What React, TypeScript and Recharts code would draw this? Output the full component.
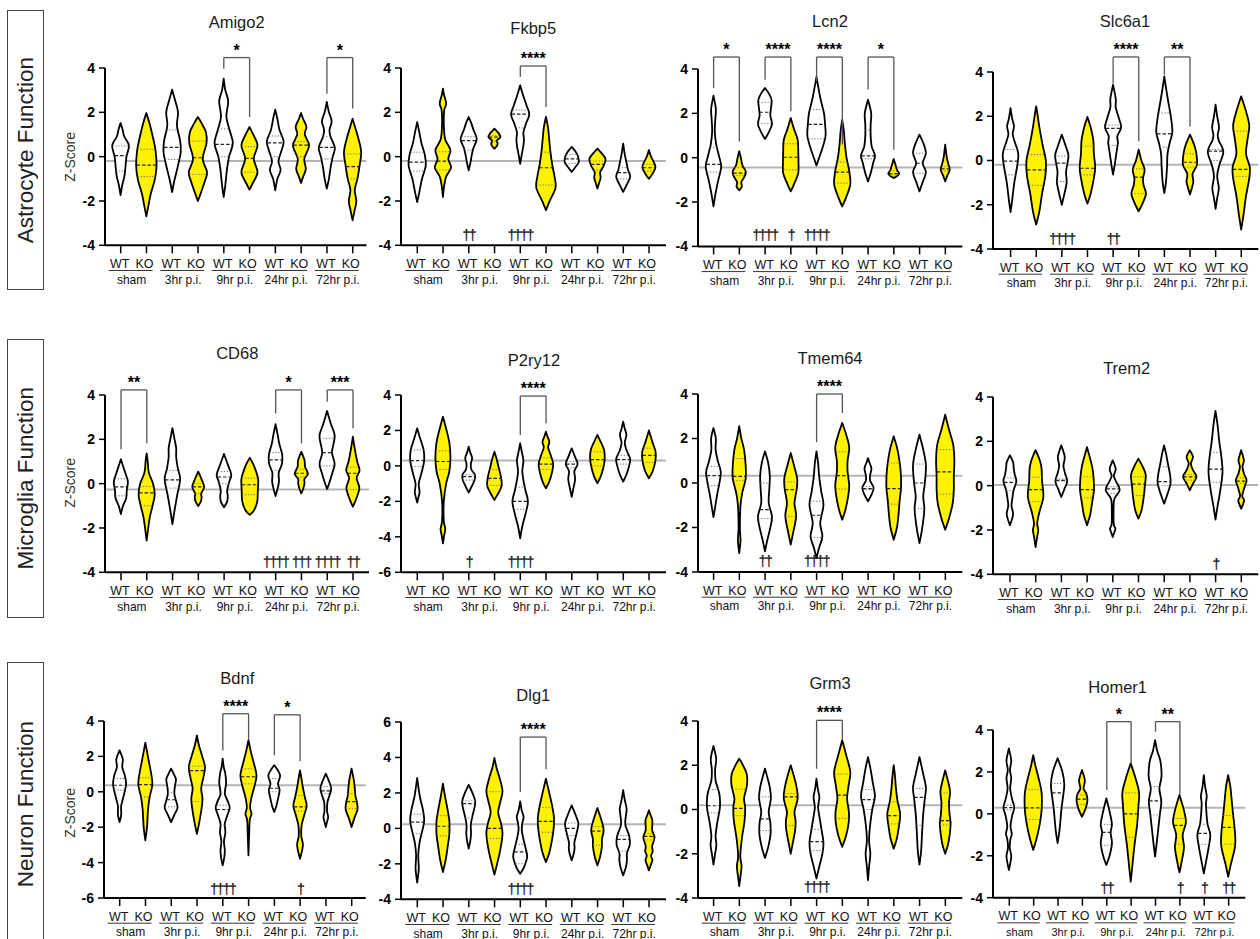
import React from 'react';
import { ComposedChart, Bar, XAxis, YAxis, ReferenceLine, ReferenceDot } from 'recharts';

const FONT = '"Liberation Sans", Arial, Helvetica, sans-serif';

// ---------- categories ----------
const genotypes = ['WT', 'KO'];
const timepoints = ['sham', '3hr p.i.', '9hr p.i.', '24hr p.i.', '72hr p.i.'];
const categories = timepoints.flatMap((t) => genotypes.map((g) => `${g}|${t}`));
const rowLabels = ['Astrocyte Function', 'Microglia Function', 'Neuron Function'];

const ticks44 = [-4, -2, 0, 2, 4];
const ticks64 = [-6, -4, -2, 0, 2, 4];
const ticks46 = [-4, -2, 0, 2, 4, 6];

// ---------- violins: k = [value, relative half width] knots (min..max), q = [Q1, median, Q3] ----------
const amigo2Violins = [
  { k: [[-1.74, 0], [-1.3, 0.15], [-0.9, 0.35], [-0.5, 0.45], [0, 0.55], [0.5, 0.78], [0.9, 0.35], [1.2, 0.2], [1.52, 0]], q: [-0.65, 0.05, 0.48] },
  { k: [[-2.69, 0], [-2.2, 0.2], [-1.7, 0.4], [-1.0, 0.8], [-0.4, 0.95], [0.3, 0.85], [0.9, 0.6], [1.5, 0.3], [1.97, 0]], q: [-0.9, -0.38, 0.33] },
  { k: [[-1.6, 0], [-1.1, 0.2], [-0.5, 0.5], [0.2, 0.8], [0.7, 0.75], [1.4, 0.45], [2.0, 0.55], [2.5, 0.3], [3.02, 0]], q: [-0.13, 0.42, 1.2] },
  { k: [[-2.0, 0], [-1.6, 0.3], [-1.1, 0.65], [-0.7, 0.85], [-0.1, 0.45], [0.6, 0.8], [1.1, 0.75], [1.5, 0.35], [1.79, 0]], q: [-0.8, -0.05, 0.7] },
  { k: [[-1.82, 0], [-1.3, 0.15], [-0.6, 0.3], [0, 0.5], [0.6, 0.85], [1.2, 0.55], [1.8, 0.25], [2.5, 0.42], [3.0, 0.15], [3.52, 0]], q: [0.0, 0.55, 1.25] },
  { k: [[-1.49, 0], [-1.2, 0.3], [-0.7, 0.75], [-0.1, 0.4], [0.5, 0.75], [0.9, 0.45], [1.34, 0]], q: [-0.7, -0.08, 0.45] },
  { k: [[-1.52, 0], [-1.0, 0.2], [-0.6, 0.5], [-0.2, 0.3], [0.3, 0.6], [0.7, 0.78], [1.2, 0.4], [1.7, 0.2], [2.12, 0]], q: [0.0, 0.62, 0.93] },
  { k: [[-1.19, 0], [-0.9, 0.2], [-0.55, 0.45], [-0.1, 0.3], [0.5, 0.75], [1.0, 0.35], [1.35, 0.5], [1.7, 0.2], [1.97, 0]], q: [0.0, 0.52, 0.68] },
  { k: [[-1.44, 0], [-1.0, 0.2], [-0.5, 0.35], [0, 0.55], [0.4, 0.75], [0.9, 0.35], [1.2, 0.25], [1.6, 0.45], [2.0, 0.2], [2.47, 0]], q: [-0.1, 0.42, 0.9] },
  { k: [[-2.87, 0], [-2.4, 0.2], [-2.0, 0.35], [-1.5, 0.2], [-1.0, 0.45], [-0.4, 0.65], [0.2, 0.8], [0.8, 0.55], [1.3, 0.25], [1.71, 0]], q: [-1.0, -0.45, 0.12] },
];
const fkbp5Violins = [
  { k: [[-2.05, 0], [-1.6, 0.2], [-1.0, 0.45], [-0.4, 0.8], [0.1, 0.7], [0.6, 0.4], [1.1, 0.2], [1.56, 0]], q: [-0.65, -0.25, 0.2] },
  { k: [[-1.82, 0], [-1.3, 0.12], [-0.9, 0.3], [-0.5, 0.75], [-0.1, 0.5], [0.3, 0.7], [0.8, 0.2], [1.5, 0.08], [2.1, 0.12], [2.4, 0.3], [2.8, 0.1], [3.07, 0]], q: [-0.6, -0.2, 0.22] },
  { k: [[-0.62, 0], [-0.3, 0.15], [0.1, 0.3], [0.4, 0.45], [0.8, 0.75], [1.2, 0.45], [1.5, 0.25], [1.79, 0]], q: [0.3, 0.72, 0.9] },
  { k: [[0.36, 0], [0.5, 0.25], [0.62, 0.3], [0.72, 0.2], [0.88, 0.55], [1.05, 0.4], [1.26, 0]], q: [0.7, 0.88, 0.95] },
  { k: [[-0.32, 0], [0.1, 0.15], [0.5, 0.3], [0.8, 0.35], [1.1, 0.3], [1.5, 0.55], [1.9, 0.85], [2.3, 0.6], [2.8, 0.25], [3.22, 0]], q: [1.3, 1.92, 2.1] },
  { k: [[-2.42, 0], [-2.0, 0.35], [-1.4, 0.9], [-0.9, 0.8], [-0.4, 0.6], [0.2, 0.42], [0.8, 0.3], [1.3, 0.2], [1.79, 0]], q: [-1.28, -0.5, 0.2] },
  { k: [[-0.69, 0], [-0.5, 0.3], [-0.25, 0.65], [0, 0.6], [0.2, 0.4], [0.44, 0]], q: [-0.3, -0.1, 0.1] },
  { k: [[-1.44, 0], [-1.2, 0.15], [-0.95, 0.3], [-0.7, 0.25], [-0.4, 0.6], [-0.1, 0.75], [0.15, 0.4], [0.36, 0]], q: [-0.6, -0.35, -0.2] },
  { k: [[-1.59, 0], [-1.3, 0.3], [-0.9, 0.65], [-0.6, 0.45], [-0.3, 0.32], [0.1, 0.15], [0.59, 0]], q: [-1.0, -0.72, -0.5] },
  { k: [[-1.0, 0], [-0.8, 0.3], [-0.5, 0.6], [-0.3, 0.5], [0, 0.2], [0.3, 0]], q: [-0.65, -0.5, -0.35] },
];
const lcn2Violins = [
  { k: [[-2.2, 0], [-1.6, 0.2], [-1.0, 0.45], [-0.4, 0.72], [0.1, 0.5], [0.6, 0.25], [1.2, 0.12], [1.8, 0.18], [2.2, 0.22], [2.8, 0]], q: [-0.65, -0.3, 0.45] },
  { k: [[-1.47, 0], [-1.3, 0.25], [-1.1, 0.2], [-0.8, 0.55], [-0.6, 0.6], [-0.35, 0.3], [0, 0.15], [0.29, 0]], q: [-0.8, -0.7, -0.45] },
  { k: [[0.84, 0], [1.1, 0.3], [1.5, 0.65], [1.9, 0.5], [2.2, 0.55], [2.6, 0.62], [2.9, 0.35], [3.14, 0]], q: [1.55, 2.05, 2.5] },
  { k: [[-1.52, 0], [-1.2, 0.3], [-0.7, 0.7], [-0.2, 0.72], [0.3, 0.7], [0.8, 0.65], [1.3, 0.3], [1.79, 0]], q: [-0.55, 0.02, 0.63] },
  { k: [[-0.35, 0], [0, 0.25], [0.5, 0.6], [1.0, 0.85], [1.5, 0.8], [2.0, 0.7], [2.6, 0.4], [3.1, 0.2], [3.64, 0]], q: [0.85, 1.5, 2.17] },
  { k: [[-2.2, 0], [-1.8, 0.35], [-1.2, 0.75], [-0.6, 0.65], [0, 0.4], [0.6, 0.25], [1.2, 0.15], [1.71, 0]], q: [-1.15, -0.65, -0.2] },
  { k: [[-1.07, 0], [-0.7, 0.25], [-0.2, 0.5], [0.1, 0.65], [0.5, 0.35], [1.0, 0.25], [1.5, 0.25], [2.0, 0.3], [2.62, 0]], q: [-0.05, 0.08, 1.25] },
  { k: [[-0.92, 0], [-0.8, 0.4], [-0.7, 0.5], [-0.55, 0.3], [-0.3, 0.15], [-0.06, 0]], q: [-0.78, -0.72, -0.6] },
  { k: [[-1.52, 0], [-1.1, 0.3], [-0.65, 0.6], [-0.25, 0.3], [0.2, 0.6], [0.6, 0.4], [1.04, 0]], q: [-0.7, -0.25, 0.2] },
  { k: [[-1.07, 0], [-0.8, 0.2], [-0.55, 0.42], [-0.3, 0.3], [0, 0.15], [0.59, 0]], q: [-0.6, -0.5, -0.4] },
];
const slc6a1Violins = [
  { k: [[-2.33, 0], [-1.8, 0.15], [-1.0, 0.35], [-0.3, 0.6], [0.3, 0.72], [0.9, 0.35], [1.2, 0.2], [1.55, 0.32], [1.9, 0.15], [2.37, 0]], q: [-0.65, -0.03, 0.5] },
  { k: [[-2.9, 0], [-2.3, 0.3], [-1.5, 0.55], [-0.7, 0.85], [0, 0.9], [0.7, 0.6], [1.5, 0.3], [2.0, 0.15], [2.45, 0]], q: [-1.12, -0.42, 0.27] },
  { k: [[-2.0, 0], [-1.6, 0.2], [-1.0, 0.45], [-0.5, 0.4], [0.2, 0.62], [0.6, 0.4], [1.17, 0]], q: [-0.95, -0.12, 0.2] },
  { k: [[-1.95, 0], [-1.5, 0.3], [-0.8, 0.6], [-0.3, 0.72], [0.3, 0.6], [0.9, 0.55], [1.5, 0.3], [1.97, 0]], q: [-0.65, -0.35, 0.65] },
  { k: [[-0.64, 0], [-0.2, 0.15], [0.3, 0.3], [0.8, 0.45], [1.1, 0.4], [1.5, 0.75], [1.9, 0.55], [2.4, 0.25], [2.8, 0.25], [3.42, 0]], q: [0.68, 1.45, 1.6] },
  { k: [[-2.3, 0], [-1.9, 0.4], [-1.5, 0.68], [-1.1, 0.45], [-0.8, 0.4], [-0.4, 0.55], [0, 0.25], [0.49, 0]], q: [-1.5, -0.75, -0.38] },
  { k: [[-1.47, 0], [-1.0, 0.15], [-0.3, 0.25], [0.3, 0.3], [0.8, 0.5], [1.3, 0.75], [2.0, 0.6], [2.7, 0.35], [3.3, 0.15], [3.8, 0]], q: [0.6, 1.2, 2.15] },
  { k: [[-1.54, 0], [-1.2, 0.2], [-0.95, 0.32], [-0.6, 0.25], [-0.2, 0.65], [0.3, 0.6], [0.7, 0.4], [1.17, 0]], q: [-0.3, -0.08, 0.3] },
  { k: [[-2.19, 0], [-1.7, 0.15], [-1.25, 0.3], [-0.7, 0.15], [-0.2, 0.35], [0.4, 0.72], [0.9, 0.3], [1.15, 0.2], [1.5, 0.32], [2.0, 0.15], [2.52, 0]], q: [0.0, 0.42, 0.5] },
  { k: [[-3.12, 0], [-2.5, 0.2], [-1.6, 0.45], [-0.8, 0.75], [-0.3, 0.8], [0.3, 0.45], [1.0, 0.6], [1.6, 0.75], [2.3, 0.4], [2.9, 0]], q: [-0.72, -0.4, 1.33] },
];
const cd68Violins = [
  { k: [[-1.37, 0], [-1.0, 0.2], [-0.65, 0.5], [-0.3, 0.55], [0.1, 0.65], [0.5, 0.4], [0.8, 0.2], [1.1, 0]], q: [-0.55, -0.15, 0.22] },
  { k: [[-2.57, 0], [-2.0, 0.15], [-1.5, 0.3], [-1.0, 0.55], [-0.5, 0.75], [0, 0.6], [0.5, 0.2], [1.0, 0.1], [1.37, 0]], q: [-1.0, -0.42, -0.13] },
  { k: [[-1.83, 0], [-1.2, 0.2], [-0.5, 0.45], [0.2, 0.72], [0.7, 0.5], [1.2, 0.35], [1.6, 0.35], [2.0, 0.2], [2.5, 0]], q: [-0.2, 0.17, 0.6] },
  { k: [[-1.01, 0], [-0.8, 0.25], [-0.6, 0.32], [-0.45, 0.28], [-0.15, 0.55], [0.15, 0.35], [0.54, 0]], q: [-0.44, -0.15, 0.0] },
  { k: [[-1.07, 0], [-0.8, 0.3], [-0.55, 0.35], [-0.3, 0.3], [0.1, 0.5], [0.4, 0.68], [0.8, 0.4], [1.34, 0]], q: [0.0, 0.3, 0.55] },
  { k: [[-1.41, 0], [-1.2, 0.4], [-0.8, 0.7], [-0.3, 0.75], [0.2, 0.78], [0.6, 0.55], [0.9, 0.3], [1.17, 0]], q: [-0.5, -0.05, 0.25] },
  { k: [[-0.56, 0], [-0.2, 0.2], [0.1, 0.32], [0.5, 0.3], [0.9, 0.6], [1.3, 0.62], [1.8, 0.35], [2.2, 0.2], [2.68, 0]], q: [0.6, 1.07, 1.4] },
  { k: [[-0.44, 0], [-0.2, 0.2], [0.05, 0.3], [0.2, 0.28], [0.45, 0.62], [0.75, 0.35], [1.05, 0.3], [1.44, 0]], q: [0.3, 0.47, 0.65] },
  { k: [[-0.24, 0], [0.1, 0.25], [0.5, 0.5], [0.9, 0.7], [1.4, 0.45], [1.8, 0.6], [2.2, 0.7], [2.7, 0.35], [3.28, 0]], q: [0.8, 1.4, 2.05] },
  { k: [[-1.04, 0], [-0.7, 0.3], [-0.2, 0.6], [0.25, 0.35], [0.6, 0.62], [1.0, 0.4], [1.5, 0.2], [2.12, 0]], q: [-0.26, 0.47, 0.75] },
];
const p2ry12Violins = [
  { k: [[-2.07, 0], [-1.7, 0.15], [-1.45, 0.22], [-1.0, 0.15], [-0.4, 0.4], [0.3, 0.65], [0.9, 0.6], [1.5, 0.3], [2.12, 0]], q: [-0.04, 0.3, 0.9] },
  { k: [[-4.37, 0], [-3.9, 0.12], [-3.55, 0.22], [-3.1, 0.08], [-2.0, 0.08], [-1.0, 0.3], [-0.3, 0.6], [0.5, 0.7], [1.3, 0.6], [2.1, 0.3], [2.77, 0]], q: [-0.2, 0.25, 0.85] },
  { k: [[-1.5, 0], [-1.2, 0.25], [-0.8, 0.55], [-0.5, 0.58], [-0.2, 0.25], [0.1, 0.2], [0.45, 0.32], [0.75, 0.15], [1.09, 0]], q: [-0.8, -0.6, -0.5] },
  { k: [[-1.92, 0], [-1.5, 0.4], [-1.1, 0.68], [-0.6, 0.6], [-0.1, 0.4], [0.4, 0.2], [0.8, 0]], q: [-1.1, -0.7, -0.2] },
  { k: [[-4.08, 0], [-3.4, 0.2], [-2.7, 0.5], [-2.0, 0.72], [-1.4, 0.5], [-0.8, 0.3], [-0.3, 0.2], [0.3, 0.3], [0.8, 0.15], [1.27, 0]], q: [-2.45, -2.0, -1.2] },
  { k: [[-1.26, 0], [-0.9, 0.3], [-0.4, 0.55], [0.1, 0.68], [0.6, 0.45], [1.05, 0.2], [1.35, 0.32], [1.65, 0.15], [1.93, 0]], q: [-0.2, 0.1, 0.45] },
  { k: [[-1.74, 0], [-1.3, 0.15], [-0.75, 0.32], [-0.3, 0.25], [0.1, 0.55], [0.45, 0.35], [0.99, 0]], q: [-0.1, 0.1, 0.25] },
  { k: [[-0.98, 0], [-0.6, 0.3], [-0.1, 0.55], [0.4, 0.68], [0.9, 0.62], [1.3, 0.35], [1.75, 0]], q: [0.0, 0.35, 0.8] },
  { k: [[-0.88, 0], [-0.5, 0.3], [0, 0.55], [0.4, 0.65], [0.9, 0.3], [1.3, 0.15], [1.75, 0.3], [2.1, 0.15], [2.5, 0]], q: [0.1, 0.35, 0.6] },
  { k: [[-0.7, 0], [-0.3, 0.35], [0.3, 0.6], [0.8, 0.62], [1.3, 0.35], [2.0, 0]], q: [0.2, 0.6, 1.0] },
];
const tmem64Violins = [
  { k: [[-1.53, 0], [-1.1, 0.15], [-0.5, 0.35], [0, 0.55], [0.5, 0.68], [1.0, 0.4], [1.5, 0.2], [2.0, 0.22], [2.47, 0]], q: [-0.12, 0.33, 0.75] },
  { k: [[-3.15, 0], [-2.6, 0.12], [-2.0, 0.06], [-1.0, 0.12], [-0.4, 0.3], [0.2, 0.6], [0.8, 0.6], [1.5, 0.45], [2.0, 0.2], [2.55, 0]], q: [0.1, 0.3, 1.1] },
  { k: [[-3.07, 0], [-2.6, 0.2], [-2.0, 0.5], [-1.5, 0.65], [-0.9, 0.35], [-0.3, 0.4], [0.3, 0.45], [0.9, 0.3], [1.42, 0]], q: [-1.6, -1.2, 0.0] },
  { k: [[-2.77, 0], [-2.3, 0.2], [-1.5, 0.5], [-0.9, 0.35], [-0.3, 0.55], [0.2, 0.6], [0.8, 0.3], [1.35, 0]], q: [-1.5, -0.3, 0.05] },
  { k: [[-3.37, 0], [-2.9, 0.25], [-2.4, 0.55], [-1.8, 0.35], [-1.0, 0.65], [-0.4, 0.45], [0.3, 0.25], [0.9, 0.15], [1.42, 0]], q: [-2.45, -1.45, -0.82] },
  { k: [[-1.65, 0], [-1.2, 0.3], [-0.6, 0.55], [-0.1, 0.65], [0.5, 0.5], [1.0, 0.5], [1.6, 0.65], [2.2, 0.35], [2.7, 0]], q: [-0.27, 0.33, 1.4] },
  { k: [[-0.82, 0], [-0.5, 0.35], [-0.2, 0.52], [0.1, 0.2], [0.35, 0.2], [0.65, 0.32], [0.9, 0.15], [1.12, 0]], q: [-0.3, -0.25, -0.15] },
  { k: [[-2.55, 0], [-2.0, 0.3], [-1.4, 0.45], [-0.8, 0.55], [-0.2, 0.68], [0.5, 0.65], [1.1, 0.5], [1.6, 0.3], [2.1, 0]], q: [-0.95, -0.25, 0.9] },
  { k: [[-2.7, 0], [-2.2, 0.2], [-1.5, 0.4], [-1.1, 0.45], [-0.6, 0.35], [0, 0.5], [0.8, 0.6], [1.5, 0.35], [2.17, 0]], q: [-1.15, 0.0, 0.85] },
  { k: [[-2.1, 0], [-1.6, 0.35], [-0.9, 0.7], [-0.3, 0.8], [0.3, 0.8], [1.0, 0.85], [1.7, 0.75], [2.4, 0.35], [3.07, 0]], q: [-0.5, 0.5, 1.5] },
];
const trem2Violins = [
  { k: [[-1.79, 0], [-1.5, 0.2], [-1.25, 0.3], [-0.9, 0.15], [-0.5, 0.25], [-0.2, 0.35], [0.2, 0.6], [0.5, 0.45], [0.8, 0.35], [1.05, 0.3], [1.37, 0]], q: [-0.22, 0.15, 0.35] },
  { k: [[-2.77, 0], [-2.3, 0.15], [-2.0, 0.25], [-1.7, 0.15], [-1.2, 0.35], [-0.5, 0.72], [0.2, 0.6], [0.8, 0.55], [1.2, 0.35], [1.6, 0]], q: [-0.72, -0.18, 0.38] },
  { k: [[-0.51, 0], [-0.2, 0.25], [0.2, 0.55], [0.55, 0.35], [0.9, 0.2], [1.3, 0.32], [1.82, 0]], q: [0.2, 0.24, 0.3] },
  { k: [[-1.79, 0], [-1.3, 0.3], [-0.7, 0.5], [-0.2, 0.65], [0.3, 0.62], [0.8, 0.5], [1.3, 0.25], [1.74, 0]], q: [-0.55, -0.18, 0.4] },
  { k: [[-2.32, 0], [-2.1, 0.15], [-1.94, 0.25], [-1.75, 0.1], [-1.2, 0.08], [-0.6, 0.15], [-0.2, 0.65], [0.2, 0.3], [0.45, 0.1], [0.75, 0.28], [1.14, 0]], q: [-0.35, -0.15, -0.05] },
  { k: [[-1.49, 0], [-1.1, 0.3], [-0.5, 0.5], [0, 0.6], [0.5, 0.68], [0.9, 0.35], [1.22, 0]], q: [-0.45, 0.07, 0.4] },
  { k: [[-0.81, 0], [-0.4, 0.3], [0.1, 0.6], [0.5, 0.55], [1.0, 0.35], [1.4, 0.2], [1.82, 0]], q: [0.0, 0.18, 0.85] },
  { k: [[-0.21, 0], [0.05, 0.25], [0.4, 0.62], [0.7, 0.3], [1.0, 0.1], [1.3, 0.3], [1.6, 0]], q: [0.25, 0.4, 0.5] },
  { k: [[-1.53, 0], [-0.9, 0.2], [-0.2, 0.45], [0.6, 0.65], [1.3, 0.55], [2.0, 0.35], [2.7, 0.2], [3.37, 0]], q: [0.15, 0.75, 1.5] },
  { k: [[-1.04, 0], [-0.8, 0.2], [-0.65, 0.27], [-0.45, 0.1], [0, 0.35], [0.25, 0.5], [0.55, 0.25], [0.85, 0.12], [1.15, 0.25], [1.6, 0]], q: [0.1, 0.2, 0.35] },
];
const bdnfViolins = [
  { k: [[-1.71, 0], [-1.3, 0.15], [-0.8, 0.15], [-0.3, 0.35], [0.4, 0.6], [0.9, 0.5], [1.4, 0.25], [1.85, 0.3], [2.34, 0]], q: [0.1, 0.37, 0.75] },
  { k: [[-2.74, 0], [-2.2, 0.12], [-1.8, 0.18], [-1.0, 0.25], [-0.3, 0.4], [0.4, 0.65], [1.0, 0.55], [1.8, 0.3], [2.78, 0]], q: [-0.3, 0.4, 0.8] },
  { k: [[-1.71, 0], [-1.3, 0.3], [-0.9, 0.6], [-0.5, 0.45], [-0.1, 0.3], [0.3, 0.35], [0.7, 0.45], [1.0, 0.25], [1.31, 0]], q: [-0.85, -0.45, -0.05] },
  { k: [[-2.37, 0], [-1.8, 0.2], [-1.0, 0.42], [-0.4, 0.52], [0.2, 0.4], [0.8, 0.6], [1.4, 0.75], [2.0, 0.5], [2.6, 0.2], [3.18, 0]], q: [-0.55, 1.2, 1.45] },
  { k: [[-4.16, 0], [-3.7, 0.15], [-3.3, 0.2], [-2.8, 0.12], [-2.3, 0.25], [-1.8, 0.2], [-1.3, 0.45], [-0.9, 0.65], [-0.5, 0.45], [-0.1, 0.2], [0.5, 0.32], [1.0, 0.25], [1.4, 0.1], [1.87, 0]], q: [-1.9, -1.0, -0.76] },
  { k: [[-3.59, 0], [-2.5, 0.06], [-1.6, 0.12], [-1.25, 0.28], [-0.9, 0.15], [-0.4, 0.25], [0.3, 0.55], [0.9, 0.75], [1.5, 0.55], [2.2, 0.25], [2.91, 0]], q: [0.45, 0.85, 1.3] },
  { k: [[-1.14, 0], [-0.8, 0.2], [-0.4, 0.35], [0.1, 0.5], [0.45, 0.35], [0.9, 0.55], [1.2, 0.35], [1.5, 0]], q: [0.0, 0.2, 0.75] },
  { k: [[-3.78, 0], [-3.3, 0.2], [-2.95, 0.27], [-2.5, 0.12], [-1.9, 0.15], [-1.3, 0.4], [-0.8, 0.62], [-0.3, 0.45], [0.3, 0.25], [0.8, 0.12], [1.21, 0]], q: [-1.1, -0.85, -0.2] },
  { k: [[-1.99, 0], [-1.7, 0.12], [-1.42, 0.22], [-1.1, 0.12], [-0.6, 0.15], [-0.1, 0.4], [0.2, 0.5], [0.6, 0.3], [1.03, 0]], q: [-0.1, 0.05, 0.3] },
  { k: [[-1.99, 0], [-1.5, 0.25], [-1.0, 0.55], [-0.6, 0.5], [-0.2, 0.35], [0.2, 0.3], [0.7, 0.2], [1.31, 0]], q: [-0.95, -0.55, -0.1] },
];
const dlg1Violins = [
  { k: [[-3.06, 0], [-2.6, 0.1], [-2.2, 0.15], [-1.5, 0.1], [-0.8, 0.22], [-0.2, 0.45], [0.4, 0.65], [1.0, 0.55], [1.8, 0.25], [2.84, 0]], q: [-0.3, 0.35, 0.8] },
  { k: [[-2.46, 0], [-1.8, 0.25], [-1.0, 0.45], [-0.3, 0.6], [0.4, 0.6], [1.0, 0.45], [1.8, 0.2], [2.52, 0]], q: [-0.42, 0.12, 0.72] },
  { k: [[-1.14, 0], [-0.7, 0.15], [-0.3, 0.22], [0.2, 0.2], [0.7, 0.35], [1.2, 0.55], [1.55, 0.6], [2.0, 0.35], [2.46, 0]], q: [0.6, 1.4, 1.55] },
  { k: [[-2.61, 0], [-2.0, 0.25], [-1.2, 0.55], [-0.3, 0.75], [0.3, 0.6], [0.9, 0.35], [1.5, 0.55], [2.1, 0.75], [2.8, 0.5], [3.4, 0.2], [3.97, 0]], q: [-0.57, 0.0, 2.07] },
  { k: [[-2.56, 0], [-2.2, 0.35], [-1.6, 0.65], [-1.1, 0.5], [-0.6, 0.3], [-0.1, 0.15], [0.3, 0.2], [0.65, 0.32], [1.0, 0.15], [1.52, 0]], q: [-2.0, -1.33, -0.9] },
  { k: [[-1.9, 0], [-1.4, 0.3], [-0.7, 0.55], [0, 0.72], [0.6, 0.75], [1.2, 0.6], [1.9, 0.35], [2.8, 0]], q: [-0.22, 0.4, 1.18] },
  { k: [[-1.8, 0], [-1.4, 0.2], [-1.1, 0.27], [-0.8, 0.25], [-0.3, 0.45], [0.25, 0.62], [0.7, 0.4], [1.3, 0]], q: [-0.4, 0.0, 0.3] },
  { k: [[-2.09, 0], [-1.6, 0.25], [-1.0, 0.42], [-0.6, 0.42], [-0.1, 0.58], [0.4, 0.4], [1.15, 0]], q: [-0.95, -0.15, 0.1] },
  { k: [[-2.65, 0], [-2.2, 0.25], [-1.8, 0.35], [-1.4, 0.35], [-0.9, 0.62], [-0.4, 0.55], [0.2, 0.2], [0.7, 0.25], [1.1, 0.32], [1.6, 0.15], [2.15, 0]], q: [-1.28, -0.62, -0.4] },
  { k: [[-2.37, 0], [-2.1, 0.15], [-1.8, 0.32], [-1.55, 0.2], [-1.3, 0.35], [-1.0, 0.3], [-0.5, 0.52], [-0.1, 0.3], [0.45, 0.32], [0.75, 0.15], [1.02, 0]], q: [-0.65, -0.45, -0.3] },
];
const grm3Violins = [
  { k: [[-2.49, 0], [-2.0, 0.15], [-1.6, 0.27], [-1.2, 0.2], [-0.6, 0.35], [0.1, 0.6], [0.7, 0.55], [1.3, 0.2], [1.8, 0.15], [2.3, 0.25], [2.87, 0]], q: [-0.15, 0.17, 0.9] },
  { k: [[-3.46, 0], [-3.0, 0.12], [-2.55, 0.22], [-2.1, 0.1], [-1.3, 0.25], [-0.5, 0.5], [0.1, 0.55], [0.5, 0.45], [1.1, 0.72], [1.6, 0.7], [2.0, 0.35], [2.3, 0]], q: [-0.28, 0.05, 0.92] },
  { k: [[-2.19, 0], [-1.7, 0.3], [-1.1, 0.52], [-0.6, 0.5], [-0.1, 0.35], [0.5, 0.55], [1.0, 0.45], [1.4, 0.25], [1.85, 0]], q: [-0.95, -0.42, 0.57] },
  { k: [[-2.0, 0], [-1.5, 0.2], [-0.9, 0.42], [-0.5, 0.45], [-0.1, 0.35], [0.5, 0.65], [1.0, 0.55], [1.5, 0.3], [2.0, 0]], q: [-0.72, 0.57, 0.72] },
  { k: [[-3.12, 0], [-2.6, 0.25], [-2.0, 0.55], [-1.5, 0.65], [-1.0, 0.5], [-0.4, 0.3], [0.1, 0.15], [0.55, 0.27], [0.95, 0.12], [1.39, 0]], q: [-1.85, -1.45, -0.9] },
  { k: [[-1.69, 0], [-1.2, 0.35], [-0.6, 0.6], [-0.1, 0.62], [0.5, 0.45], [1.1, 0.6], [1.7, 0.75], [2.4, 0.4], [3.13, 0]], q: [-0.4, 0.65, 1.6] },
  { k: [[-3.2, 0], [-2.6, 0.1], [-2.0, 0.22], [-1.4, 0.1], [-0.7, 0.2], [0, 0.4], [0.6, 0.65], [1.2, 0.45], [1.8, 0.25], [2.37, 0]], q: [0.0, 0.45, 0.9] },
  { k: [[-1.77, 0], [-1.3, 0.3], [-0.7, 0.5], [-0.2, 0.6], [0.4, 0.35], [1.0, 0.2], [1.5, 0.12], [2.0, 0]], q: [-0.65, -0.28, 0.35] },
  { k: [[-2.49, 0], [-1.9, 0.15], [-1.0, 0.25], [-0.2, 0.35], [0.5, 0.5], [1.0, 0.6], [1.6, 0.35], [2.37, 0]], q: [-0.72, 0.55, 0.95] },
  { k: [[-2.0, 0], [-1.5, 0.3], [-0.7, 0.5], [-0.2, 0.4], [0.3, 0.35], [0.8, 0.45], [1.3, 0.25], [1.77, 0]], q: [-0.7, -0.5, 0.75] },
];
const homer1Violins = [
  { k: [[-2.68, 0], [-2.3, 0.15], [-2.0, 0.22], [-1.6, 0.08], [-1.2, 0.15], [-0.95, 0.27], [-0.6, 0.15], [-0.1, 0.3], [0.3, 0.5], [0.7, 0.3], [1.2, 0.12], [1.7, 0.22], [2.1, 0.1], [2.55, 0.22], [3.12, 0]], q: [0.2, 0.3, 0.4] },
  { k: [[-1.72, 0], [-1.2, 0.3], [-0.5, 0.6], [0.2, 0.78], [1.0, 0.78], [1.7, 0.5], [2.3, 0.2], [2.8, 0]], q: [-0.27, 0.28, 1.15] },
  { k: [[-1.4, 0], [-0.9, 0.15], [-0.4, 0.25], [0.2, 0.35], [0.8, 0.5], [1.4, 0.62], [2.0, 0.45], [2.65, 0]], q: [0.3, 1.0, 1.45] },
  { k: [[-0.14, 0], [0.2, 0.3], [0.6, 0.5], [0.95, 0.42], [1.2, 0.15], [1.6, 0.27], [2.09, 0]], q: [0.45, 0.7, 0.9] },
  { k: [[-2.44, 0], [-2.0, 0.3], [-1.4, 0.52], [-0.9, 0.4], [-0.5, 0.52], [0, 0.35], [0.74, 0]], q: [-1.5, -0.88, -0.5] },
  { k: [[-3.24, 0], [-2.5, 0.15], [-1.5, 0.35], [-0.5, 0.6], [0.4, 0.72], [1.0, 0.78], [1.7, 0.45], [2.41, 0]], q: [-1.12, 0.0, 1.0] },
  { k: [[-2.04, 0], [-1.4, 0.15], [-0.7, 0.3], [0, 0.45], [0.6, 0.58], [1.2, 0.4], [1.8, 0.6], [2.5, 0.5], [3.0, 0.2], [3.52, 0]], q: [-0.05, 0.62, 1.3] },
  { k: [[-2.79, 0], [-2.3, 0.2], [-1.6, 0.42], [-1.0, 0.3], [-0.4, 0.6], [0.2, 0.4], [0.9, 0]], q: [-1.45, -0.55, -0.22] },
  { k: [[-2.84, 0], [-2.3, 0.2], [-1.6, 0.45], [-1.0, 0.6], [-0.5, 0.35], [0, 0.25], [0.5, 0.2], [0.85, 0.27], [1.3, 0.12], [1.85, 0]], q: [-1.45, -0.93, -0.5] },
  { k: [[-3.0, 0], [-2.4, 0.25], [-1.5, 0.65], [-0.7, 0.6], [0, 0.45], [0.8, 0.3], [1.3, 0.2], [1.85, 0]], q: [-1.45, -0.65, -0.08] },
];

// ---------- significance brackets (pair index, top, left leg end, right leg end) ----------
const amigo2Brackets = [{ pair: 2, top: 4.47, l: 3.97, r: 1.79, s: '*' }, { pair: 4, top: 4.47, l: 2.84, r: 2.17, s: '*' }];
const fkbp5Brackets = [{ pair: 2, top: 4.09, l: 3.59, r: 2.24, s: '****' }];
const lcn2Brackets = [
  { pair: 0, top: 4.54, l: 3.14, r: 0.74, s: '*' },
  { pair: 1, top: 4.54, l: 3.52, r: 2.09, s: '****' },
  { pair: 2, top: 4.54, l: 3.44, r: 0.59, s: '****' },
  { pair: 3, top: 4.54, l: 3.07, r: 0.36, s: '*' },
];
const slc6a1Brackets = [{ pair: 2, top: 4.68, l: 3.47, r: 0.87, s: '****' }, { pair: 3, top: 4.68, l: 3.88, r: 1.54, s: '**' }];
const cd68Brackets = [
  { pair: 0, top: 4.23, l: 1.55, r: 1.82, s: '**' },
  { pair: 3, top: 4.23, l: 3.17, r: 1.82, s: '*' },
  { pair: 4, top: 4.23, l: 3.7, r: 2.5, s: '***' },
];
const p2ry12Brackets = [{ pair: 2, top: 3.94, l: 1.74, r: 2.4, s: '****' }];
const tmem64Brackets = [{ pair: 2, top: 4.0, l: 1.83, r: 3.15, s: '****' }];
const trem2Brackets = [];
const bdnfBrackets = [{ pair: 2, top: 4.41, l: 2.34, r: 2.91, s: '****' }, { pair: 3, top: 4.35, l: 2.06, r: 1.72, s: '*' }];
const dlg1Brackets = [{ pair: 2, top: 5.15, l: 2.05, r: 3.33, s: '****' }];
const grm3Brackets = [{ pair: 2, top: 4.03, l: 1.84, r: 3.13, s: '****' }];
const homer1Brackets = [{ pair: 2, top: 4.4, l: 1.14, r: 2.41, s: '*' }, { pair: 3, top: 4.4, l: 3.92, r: 0.9, s: '**' }];

// ---------- daggers (category index, symbol) ----------
const amigo2Daggers = [];
const fkbp5Daggers = [{ i: 2, s: '††' }, { i: 4, s: '††††' }];
const lcn2Daggers = [{ i: 2, s: '††††' }, { i: 3, s: '†' }, { i: 4, s: '††††' }];
const slc6a1Daggers = [{ i: 2, s: '††††' }, { i: 4, s: '††' }];
const cd68Daggers = [{ i: 6, s: '††††' }, { i: 7, s: '†††' }, { i: 8, s: '††††' }, { i: 9, s: '††' }];
const p2ry12Daggers = [{ i: 2, s: '†' }, { i: 4, s: '††††' }];
const tmem64Daggers = [{ i: 2, s: '††' }, { i: 4, s: '††††' }];
const trem2Daggers = [{ i: 8, s: '†' }];
const bdnfDaggers = [{ i: 4, s: '††††' }, { i: 7, s: '†' }];
const dlg1Daggers = [{ i: 4, s: '††††' }];
const grm3Daggers = [{ i: 4, s: '††††' }];
const homer1Daggers = [{ i: 4, s: '††' }, { i: 7, s: '†' }, { i: 8, s: '†' }, { i: 9, s: '††' }];

// ---------- panels ----------
const panels = [
  { title: 'Amigo2', v: amigo2Violins, b: amigo2Brackets, d: amigo2Daggers, ref: -0.2, domain: [-4, 4], ticks: ticks44, dy: -3.55, g: { ax: 105, fx: 120.7, band: 25.78, xe: 366.5, yt: 67.7, yb: 245, tx: 236.7, ty: 21.7, lf: 12 } },
  { title: 'Fkbp5', v: fkbp5Violins, b: fkbp5Brackets, d: fkbp5Daggers, ref: -0.2, domain: [-4, 4], ticks: ticks44, dy: -3.55, g: { ax: 401, fx: 417.3, band: 25.75, xe: 666, yt: 67.7, yb: 245, tx: 533.3, ty: 28.3, lf: 12 } },
  { title: 'Lcn2', v: lcn2Violins, b: lcn2Brackets, d: lcn2Daggers, ref: -0.44, domain: [-4, 4], ticks: ticks44, dy: -3.47, g: { ax: 697.7, fx: 713.3, band: 25.75, xe: 962, yt: 69.3, yb: 246.7, tx: 830, ty: 21, lf: 12 } },
  { title: 'Slc6a1', v: slc6a1Violins, b: slc6a1Brackets, d: slc6a1Daggers, ref: -0.19, domain: [-4, 4], ticks: ticks44, dy: -3.55, g: { ax: 992.7, fx: 1010.3, band: 25.63, xe: 1258, yt: 72.3, yb: 249.3, tx: 1125, ty: 20.7, lf: 12 } },
  { title: 'CD68', v: cd68Violins, b: cd68Brackets, d: cd68Daggers, ref: -0.26, domain: [-4, 4], ticks: ticks44, dy: -3.55, g: { ax: 105, fx: 121, band: 25.78, xe: 369, yt: 395, yb: 572.3, tx: 237.3, ty: 353.3, lf: 12 } },
  { title: 'P2ry12', v: p2ry12Violins, b: p2ry12Brackets, d: p2ry12Daggers, ref: 0.3, domain: [-6, 4], ticks: ticks64, dy: -5.4, g: { ax: 401, fx: 417.3, band: 25.75, xe: 666, yt: 395, yb: 572.3, tx: 534, ty: 360, lf: 12 } },
  { title: 'Tmem64', v: tmem64Violins, b: tmem64Brackets, d: tmem64Daggers, ref: 0.33, domain: [-4, 4], ticks: ticks44, dy: -3.52, g: { ax: 697.7, fx: 713.3, band: 25.75, xe: 962, yt: 394.3, yb: 572.3, tx: 830, ty: 358.3, lf: 12 } },
  { title: 'Trem2', v: trem2Violins, b: trem2Brackets, d: trem2Daggers, ref: 0.03, domain: [-4, 4], ticks: ticks44, dy: -3.55, g: { ax: 992.7, fx: 1009.7, band: 25.7, xe: 1258, yt: 396.7, yb: 574, tx: 1126.7, ty: 368.3, lf: 12 } },
  { title: 'Bdnf', v: bdnfViolins, b: bdnfBrackets, d: bdnfDaggers, ref: 0.37, domain: [-6, 4], ticks: ticks64, dy: -5.47, g: { ax: 104.3, fx: 120, band: 25.78, xe: 366, yt: 720.7, yb: 897.7, tx: 237.3, ty: 678.3, lf: 12 } },
  { title: 'Dlg1', v: dlg1Violins, b: dlg1Brackets, d: dlg1Daggers, ref: 0.23, domain: [-4, 6], ticks: ticks46, dy: -3.4, g: { ax: 401, fx: 417.3, band: 25.75, xe: 666, yt: 721.7, yb: 899, tx: 533.3, ty: 695, lf: 12 } },
  { title: 'Grm3', v: grm3Violins, b: grm3Brackets, d: grm3Daggers, ref: 0.19, domain: [-4, 4], ticks: ticks44, dy: -3.5, g: { ax: 697.7, fx: 713.3, band: 25.75, xe: 962, yt: 720.7, yb: 897.7, tx: 830, ty: 683.3, lf: 12 } },
  { title: 'Homer1', v: homer1Violins, b: homer1Brackets, d: homer1Daggers, ref: 0.29, domain: [-4, 4], ticks: ticks44, dy: -3.55, g: { ax: 992.7, fx: 1009, band: 24.37, xe: 1245, yt: 730, yb: 897.7, tx: 1117.7, ty: 686.7, lf: 11 } },
];

const rowBoxes = [
  { top: 10, height: 280, zy: 157 },
  { top: 339, height: 279, zy: 483 },
  { top: 662, height: 285, zy: 813 },
];

const WT_FILL = '#ffffff';
const KO_FILL = '#fff200';

// ---------- rendering helpers ----------
function catmull(pts) {
  let d = '';
  for (let i = 0; i < pts.length - 1; i++) {
    const p0 = pts[i - 1] || pts[i];
    const p1 = pts[i];
    const p2 = pts[i + 1];
    const p3 = pts[i + 2] || p2;
    const c1x = p1[0] + (p2[0] - p0[0]) / 6;
    const c1y = p1[1] + (p2[1] - p0[1]) / 6;
    const c2x = p2[0] - (p3[0] - p1[0]) / 6;
    const c2y = p2[1] - (p3[1] - p1[1]) / 6;
    d += ` C${c1x.toFixed(2)},${c1y.toFixed(2)} ${c2x.toFixed(2)},${c2y.toFixed(2)} ${p2[0].toFixed(2)},${p2[1].toFixed(2)}`;
  }
  return d;
}

function widthAt(k, v) {
  for (let i = 0; i < k.length - 1; i++) {
    if (v >= k[i][0] && v <= k[i + 1][0]) {
      const t = (v - k[i][0]) / (k[i + 1][0] - k[i][0] || 1);
      return k[i][1] + t * (k[i + 1][1] - k[i][1]);
    }
  }
  return 0;
}

function ViolinShape(props) {
  const { x, y, width, height } = props;
  const pl = props.payload || props;
  const k = pl.k;
  const q = pl.q;
  if (!k || x == null || y == null) return null;
  const cx = x + width / 2;
  const hw = width / 2;
  const yBottom = Math.max(y, y + height);
  const yTopPx = Math.min(y, y + height);
  const vmin = k[0][0];
  const vmax = k[k.length - 1][0];
  const py = (v) => yBottom - ((v - vmin) / (vmax - vmin)) * (yBottom - yTopPx);
  const right = k.map(([v, w]) => [cx + w * hw, py(v)]);
  const left = k.slice().reverse().map(([v, w]) => [cx - w * hw, py(v)]);
  const d = `M${right[0][0].toFixed(2)},${right[0][1].toFixed(2)}` + catmull(right) + catmull(left) + ' Z';
  const qLine = (v, main) => {
    const w = widthAt(k, v) * hw * 0.97;
    return (
      <line
        x1={cx - w}
        x2={cx + w}
        y1={py(v)}
        y2={py(v)}
        stroke={main ? '#222' : '#777'}
        strokeWidth={main ? 1.2 : 1}
        strokeDasharray={main ? '3.5 2' : '1.3 1.6'}
      />
    );
  };
  return (
    <g>
      <path d={d} fill={pl.fill} stroke="#000" strokeWidth={1.8} strokeLinejoin="round" />
      {qLine(q[0], false)}
      {qLine(q[2], false)}
      {qLine(q[1], true)}
    </g>
  );
}

function Panel({ p }) {
  const g = p.g;
  const YW = 50;
  const MT = 48;
  const MR = 12;
  const XH = 50;
  const plotW = g.xe - g.ax;
  const plotH = g.yb - g.yt;
  const W = YW + plotW + MR;
  const H = MT + plotH + XH;
  const padL = g.fx - g.band / 2 - g.ax;
  const padR = Math.max(0, plotW - padL - 10 * g.band);
  const data = categories.map((c, i) => {
    const v = p.v[i];
    return { cat: c, range: [v.k[0][0], v.k[v.k.length - 1][0]], k: v.k, q: v.q, fill: i % 2 ? KO_FILL : WT_FILL };
  });
  const band = g.band;
  const renderTick = (tp) => {
    const { x, y, payload } = tp;
    const idx = categories.indexOf(payload.value);
    const [geno, tpName] = String(payload.value).split('|');
    const isKO = idx % 2 === 1;
    return (
      <g>
        <text x={x - (isKO ? 2 : 1)} y={y + 14.7} textAnchor="middle" fontSize={12.5} fill="#111">{geno}</text>
        {isKO && (
          <>
            <line x1={x - band - 12} x2={x + 6} y1={y + 17.2} y2={y + 17.2} stroke="#333" strokeWidth={1} />
            <text x={x - band / 2 - 2} y={y + 30.5} textAnchor="middle" fontSize={g.lf} fill="#111">{tpName}</text>
          </>
        )}
      </g>
    );
  };
  return (
    <>
      <div
        style={{ position: 'absolute', left: g.tx - 100, top: g.ty - 10, width: 200, textAlign: 'center', fontSize: 16.5, lineHeight: '20px', color: '#1a1a1a' }}
      >
        {p.title}
      </div>
      <div style={{ position: 'absolute', left: g.ax - YW, top: g.yt - MT, width: W, height: H }}>
        <ComposedChart width={W} height={H} data={data} margin={{ top: MT, right: MR, bottom: 0, left: 0 }}>
          <XAxis
            dataKey="cat"
            type="category"
            interval={0}
            height={XH}
            padding={{ left: padL, right: padR }}
            tickSize={8}
            tickMargin={0}
            axisLine={{ stroke: '#000', strokeWidth: 2 }}
            tickLine={{ stroke: '#000', strokeWidth: 1.5 }}
            tick={renderTick}
          />
          <YAxis
            type="number"
            domain={p.domain}
            ticks={p.ticks}
            interval={0}
            width={YW}
            tickSize={6}
            tickMargin={4}
            axisLine={{ stroke: '#000', strokeWidth: 2 }}
            tickLine={{ stroke: '#000', strokeWidth: 1.5 }}
            tick={{ fontSize: 14, fontWeight: 700, fill: '#000' }}
          />
          <ReferenceLine y={p.ref} stroke="#b4b4b4" strokeWidth={2} ifOverflow="visible" zIndex={-50} />
          <Bar dataKey="range" barSize={21.5} isAnimationActive={false} shape={(sp) => <ViolinShape {...sp} />} />
          {p.b.map((b, j) => {
            const cl = categories[b.pair * 2];
            const cr = categories[b.pair * 2 + 1];
            return (
              <React.Fragment key={`b${j}`}>
                <ReferenceLine
                  segment={[{ x: cl, y: b.top }, { x: cr, y: b.top }]}
                  stroke="#555"
                  strokeWidth={1.3}
                  ifOverflow="visible"
                  label={{ value: b.s, position: 'top', offset: 2, fill: '#000', fontSize: 16, fontWeight: 700 }}
                />
                <ReferenceLine segment={[{ x: cl, y: b.top }, { x: cl, y: b.l }]} stroke="#555" strokeWidth={1.3} ifOverflow="visible" />
                <ReferenceLine segment={[{ x: cr, y: b.top }, { x: cr, y: b.r }]} stroke="#555" strokeWidth={1.3} ifOverflow="visible" />
              </React.Fragment>
            );
          })}
          {p.d.map((dg, j) => (
            <ReferenceDot
              key={`d${j}`}
              x={categories[dg.i]}
              y={p.dy}
              r={0}
              ifOverflow="visible"
              shape={(sp) => (
                <g transform={`translate(${sp.cx},${sp.cy})`} opacity={0.99}>
                  <text
                    x={0}
                    y={0}
                    textAnchor="middle"
                    dominantBaseline="central"
                    fontSize={14}
                    letterSpacing={-1.5}
                    fill="#111"
                    stroke="#111"
                    strokeWidth={0.25}
                  >
                    {dg.s}
                  </text>
                </g>
              )}
            />
          ))}
        </ComposedChart>
      </div>
    </>
  );
}

export default function App() {
  return (
    <div style={{ position: 'absolute', left: 0, top: 0, width: 1260, height: 939, overflow: 'hidden', background: '#fff', fontFamily: FONT }}>
      {rowBoxes.map((r, i) => (
        <React.Fragment key={`r${i}`}>
          <div
            style={{
              position: 'absolute', left: 7, top: r.top, width: 37, height: r.height, border: '1.5px solid #444', boxSizing: 'border-box',
              display: 'flex', alignItems: 'center', justifyContent: 'center',
            }}
          >
            <div style={{ writingMode: 'vertical-rl', transform: 'rotate(180deg)', fontSize: 22.5, whiteSpace: 'nowrap', color: '#222' }}>{rowLabels[i]}</div>
          </div>
          <div
            style={{ position: 'absolute', left: 60, top: r.zy - 40, width: 20, height: 80, display: 'flex', alignItems: 'center', justifyContent: 'center' }}
          >
            <div style={{ writingMode: 'vertical-rl', transform: 'rotate(180deg)', fontSize: 14, whiteSpace: 'nowrap', color: '#333' }}>Z-Score</div>
          </div>
        </React.Fragment>
      ))}
      {panels.map((p, i) => (
        <Panel key={i} p={p} />
      ))}
    </div>
  );
}
